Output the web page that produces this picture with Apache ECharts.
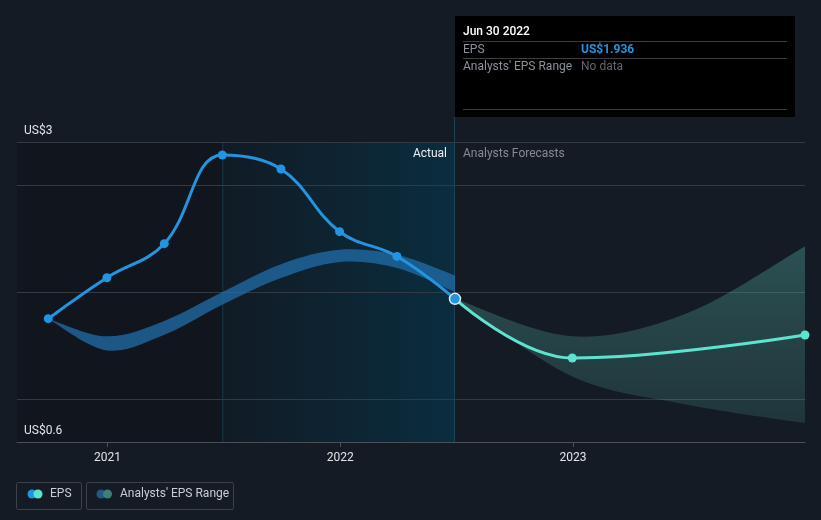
<!DOCTYPE html>
<html>
<head>
<meta charset="utf-8">
<script src="https://cdn.jsdelivr.net/npm/echarts@6/dist/echarts.min.js"></script>
<style>
html,body{margin:0;padding:0;background:#151b24;}
#c{width:821px;height:520px;}
</style>
</head>
<body>
<div id="c"></div>
<script>
// ---- data ----
const actualDates = ['2020-09-30','2020-12-31','2021-03-31','2021-06-30','2021-09-30','2021-12-31','2022-03-31','2022-06-30'];
const actualEps = [1.751, 2.133, 2.451, 3.279, 3.148, 2.563, 2.332, 1.936];
const pastRangeLow = [1.751, 1.455, 1.6, 1.88, 2.13, 2.28, 2.224, 2.0];
const pastRangeHigh = [1.751, 1.586, 1.73, 1.999, 2.26, 2.394, 2.348, 2.155];
const forecastDates = ['2022-06-30','2022-12-31','2023-12-31'];
const forecastEps = [1.936, 1.384, 1.599];
const rangeDates = ['2022-06-30','2022-12-31','2023-06-30','2023-12-31'];
const rangeLow = [1.936, 1.212, 0.948, 0.777];
const rangeHigh = [1.936, 1.586, 1.804, 2.426];
const yLabelValues = [0.6, 3.4];
const yLabelTexts = {'0.6': 'US$0.6', '3.4': 'US$3'};
const gridValues = [1, 2, 3, 3.4];
const yearTicks = ['2021-01-01','2022-01-01','2023-01-01'];
const xMin = '2020-08-12', xMax = '2023-12-31';
const pastStart = '2021-06-30', divider = '2022-06-30';
const yMin = 0.6, yMax = 3.4;
const tipDate = 'Jun 30 2022', tipEps = 'US$1.936';

function ts(s){ const p = s.split('-').map(Number); return +new Date(p[0], p[1]-1, p[2]); }
const pair = (d, v) => d.map((x, i) => [ts(x), v[i]]);
const rows = (d, lo, hi) => d.map((x, i) => [ts(x), lo[i], hi[i]]);

// Catmull-Rom spline segments through pixel points
function segs(p, reverse){
  const n = p.length, c = [];
  for (let i = 0; i < n - 1; i++) {
    const p0 = p[Math.max(i - 1, 0)], p1 = p[i], p2 = p[i + 1], p3 = p[Math.min(i + 2, n - 1)];
    c.push([[p1[0] + (p2[0] - p0[0]) / 6, p1[1] + (p2[1] - p0[1]) / 6],
            [p2[0] - (p3[0] - p1[0]) / 6, p2[1] - (p3[1] - p1[1]) / 6], p1, p2]);
  }
  let d = '';
  if (!reverse) c.forEach(s => { d += ' C' + s[0][0] + ',' + s[0][1] + ' ' + s[1][0] + ',' + s[1][1] + ' ' + s[3][0] + ',' + s[3][1]; });
  else c.slice().reverse().forEach(s => { d += ' C' + s[1][0] + ',' + s[1][1] + ' ' + s[0][0] + ',' + s[0][1] + ' ' + s[2][0] + ',' + s[2][1]; });
  return d;
}
function makeBand(name, data, fill){
  return {
    name: name, type: 'custom', z: 2, silent: true, clip: true,
    encode: {x: 0, y: [1, 2]}, data: data,
    renderItem: function(params, api){
      if (params.dataIndex !== 0) return null;
      const up = data.map(r => api.coord([r[0], r[2]]));
      const lo = data.map(r => api.coord([r[0], r[1]]));
      let d = 'M' + up[0][0] + ',' + up[0][1] + segs(up, false);
      d += ' L' + lo[lo.length - 1][0] + ',' + lo[lo.length - 1][1] + segs(lo, true) + ' Z';
      return {type: 'path', shape: {pathData: d}, style: {fill: fill, stroke: null}};
    }
  };
}

const chart = echarts.init(document.getElementById('c'), null, {renderer: 'canvas'});
const font = 'Roboto, "Noto Sans", sans-serif';

const regions = [[ts(xMin), ts(pastStart)], [ts(pastStart), ts(divider)]];
const regionFills = [
  '#11161e',
  new echarts.graphic.LinearGradient(0,0,1,0,[{offset:0,color:'#111b25'},{offset:1,color:'#0a2d3f'}])
];

const option = {
  backgroundColor: '#151b24',
  animation: false,
  grid: {left: 17, right: 16, top: 142, bottom: 78},
  xAxis: {
    type: 'value', min: ts(xMin), max: ts(xMax), scale: true, z: 10,
    axisLine: {show: true, lineStyle: {color: '#4a4f58', width: 1}},
    axisTick: {show: true, customValues: yearTicks.map(ts), length: 5, lineStyle: {color: '#4a4f58'}},
    axisLabel: {customValues: yearTicks.map(ts), color: '#e2e4e8', fontSize: 12, fontFamily: font, margin: 10,
      formatter: v => String(new Date(v + 43200000).getFullYear())},
    splitLine: {show: false}
  },
  yAxis: {
    type: 'value', min: yMin, max: yMax, z: 10,
    axisLine: {show: false}, axisTick: {show: false}, splitLine: {show: false},
    axisLabel: {customValues: yLabelValues, showMinLabel: true, showMaxLabel: true, hideOverlap: false,
      inside: true, margin: 7, verticalAlign: 'bottom', padding: [0,0,5,0],
      color: '#e2e4e8', fontSize: 12, fontFamily: font,
      formatter: v => yLabelTexts[String(+(+v).toFixed(1))] || ''}
  },
  series: [
    {
      name: 'regions', type: 'custom', z: 0, silent: true, data: regions, encode: {x: [0, 1]},
      renderItem: function(params, api){
        const a = api.coord([api.value(0), yMax]), b = api.coord([api.value(1), yMin]);
        const i = params.dataIndex;
        const children = [{type: 'rect', shape: {x: a[0], y: a[1], width: b[0] - a[0], height: b[1] - a[1]}, style: {fill: regionFills[i]}}];
        if (i === 1) {
          children.push({type: 'line', shape: {x1: a[0] + 0.5, y1: a[1], x2: a[0] + 0.5, y2: b[1]}, style: {stroke: '#163847', lineWidth: 1}});
          children.push({type: 'line', shape: {x1: b[0] - 0.5, y1: a[1], x2: b[0] - 0.5, y2: b[1]}, style: {stroke: '#1a4557', lineWidth: 1}});
        }
        return {type: 'group', children: children};
      }
    },
    {
      name: 'gridlines', type: 'custom', z: 1, silent: true, data: gridValues.map(v => [v]), encode: {y: 0},
      renderItem: function(params, api){
        const a = api.coord([ts(xMin), api.value(0)]), b = api.coord([ts(xMax), api.value(0)]);
        const y = Math.round(a[1]) + 0.5;
        return {type: 'line', shape: {x1: a[0], y1: y, x2: b[0], y2: y}, style: {stroke: '#343a43', lineWidth: 1}};
      }
    },
    makeBand('pastRange', rows(actualDates, pastRangeLow, pastRangeHigh), 'rgba(33,112,175,0.72)'),
    makeBand('fcRange', rows(rangeDates, rangeLow, rangeHigh),
      new echarts.graphic.LinearGradient(0,0,0,1,[{offset:0,color:'rgba(88,190,178,0.33)'},{offset:1,color:'rgba(88,190,178,0.16)'}])),
    {
      name: 'EPS forecast', type: 'line', smooth: 0.4, z: 4, symbol: 'none',
      lineStyle: {color: '#5de3cf', width: 3},
      data: pair(forecastDates, forecastEps)
    },
    {
      name: 'EPS forecast points', type: 'scatter', z: 6, symbol: 'circle', symbolSize: 9,
      itemStyle: {color: '#5de3cf', opacity: 1},
      data: pair(forecastDates, forecastEps).slice(1)
    },
    {
      name: 'EPS', type: 'line', smooth: 0.4, z: 5, symbol: 'none',
      lineStyle: {color: '#2394df', width: 3},
      data: pair(actualDates, actualEps)
    },
    {
      name: 'EPS points', type: 'scatter', z: 7, symbol: 'circle', symbolSize: 9,
      itemStyle: {color: '#2394df', opacity: 1},
      data: pair(actualDates, actualEps).map((p, i, a) => i === a.length - 1
        ? {value: p, symbolSize: 11, itemStyle: {color: '#2394df', borderColor: '#dce8f2', borderWidth: 1.5}} : p)
    }
  ]
};
chart.setOption(option);

const dx = Math.round(chart.convertToPixel({xAxisIndex: 0}, ts(divider)));
const topY = chart.convertToPixel({yAxisIndex: 0}, yMax);
const boxL = dx, boxT = 16, boxW = 340, boxH = 101;
const T = (x, y, text, fill, weight, align) => ({type: 'text', z: 100, x: x, y: y,
  style: {text: text, fill: fill, font: (weight || '') + ' 12px ' + font, align: align || 'left', verticalAlign: 'middle'}});
chart.setOption({
  graphic: [
    {type: 'line', z: 99, shape: {x1: dx - 0.5, y1: boxT + boxH, x2: dx - 0.5, y2: topY}, style: {stroke: '#1a4557', lineWidth: 1}, silent: true},
    T(dx - 8, 154, 'Actual', '#eef0f2', '', 'right'),
    T(dx + 8, 154, 'Analysts Forecasts', '#858a93', '', 'left'),
    {type: 'rect', z: 99, shape: {x: boxL, y: boxT, width: boxW, height: boxH}, style: {fill: '#000000'}, silent: true},
    T(boxL + 8, 32, tipDate, '#ffffff', '500'),
    {type: 'line', z: 100, shape: {x1: boxL + 8, y1: 41.5, x2: boxL + boxW - 8, y2: 41.5}, style: {stroke: '#3a3d42', lineWidth: 1}},
    T(boxL + 8, 50, 'EPS', '#8d9199'),
    T(boxL + 126, 50, tipEps, '#2394df', 'bold'),
    {type: 'line', z: 100, shape: {x1: boxL + 8, y1: 58.5, x2: boxL + boxW - 8, y2: 58.5}, style: {stroke: '#3a3d42', lineWidth: 1}},
    T(boxL + 8, 67, "Analysts' EPS Range", '#8d9199'),
    T(boxL + 126, 67, 'No data', '#62666d'),
    {type: 'line', z: 100, shape: {x1: boxL + 8, y1: 109.5, x2: boxL + boxW - 8, y2: 109.5}, style: {stroke: '#3a3d42', lineWidth: 1}},
    {type: 'rect', z: 100, shape: {x: 16.5, y: 482.5, width: 65, height: 27, r: 2}, style: {fill: 'none', stroke: '#3c414a', lineWidth: 1}},
    {type: 'circle', z: 100, shape: {cx: 32, cy: 494, r: 4.5}, style: {fill: '#2394df'}},
    {type: 'circle', z: 101, shape: {cx: 38, cy: 494, r: 4.5}, style: {fill: '#5de3cf'}},
    T(50, 494, 'EPS', '#c9ccd2'),
    {type: 'rect', z: 100, shape: {x: 86.5, y: 482.5, width: 147, height: 27, r: 2}, style: {fill: 'none', stroke: '#3c414a', lineWidth: 1}},
    {type: 'circle', z: 100, shape: {cx: 101, cy: 494, r: 4.5}, style: {fill: '#1f5a86'}},
    {type: 'circle', z: 101, shape: {cx: 107.5, cy: 494, r: 4.5}, style: {fill: '#3c7e78'}},
    T(120, 494, "Analysts' EPS Range", '#c9ccd2')
  ]
});
</script>
</body>
</html>
